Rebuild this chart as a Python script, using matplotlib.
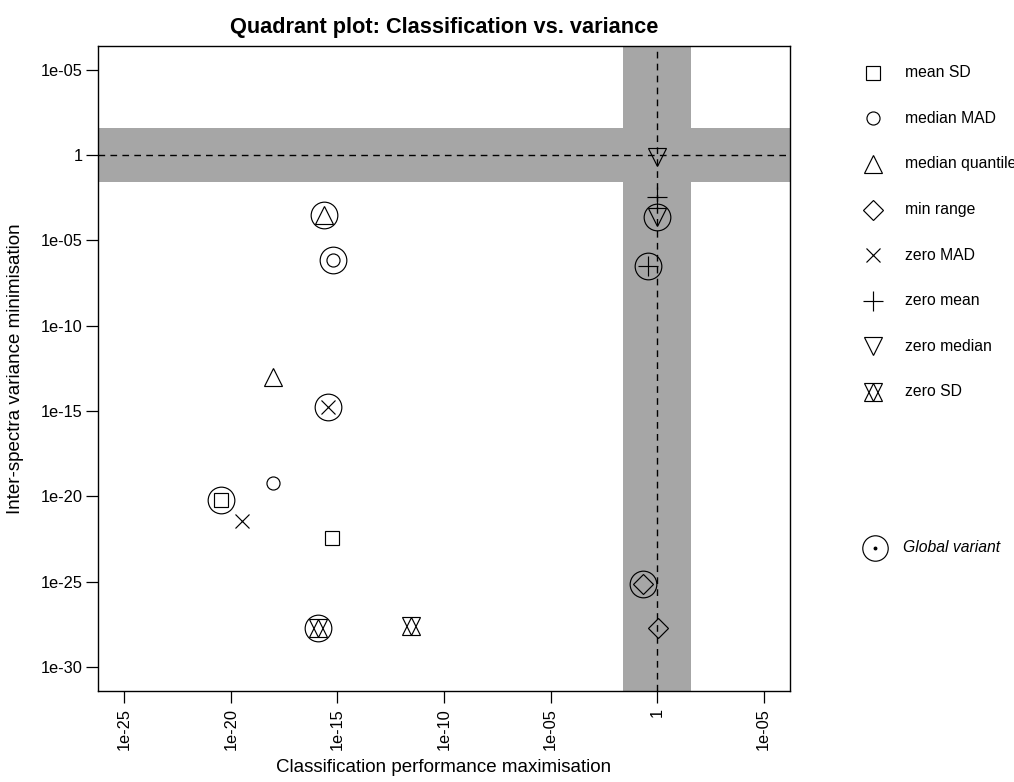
import matplotlib
matplotlib.use('Agg')
import matplotlib.pyplot as plt
import numpy as np

plt.rcParams['font.family'] = ['Liberation Sans', 'DejaVu Sans']

# methods, in legend order
methods = ['mean SD', 'median MAD', 'median quantile', 'min range',
           'zero MAD', 'zero mean', 'zero median', 'zero SD']

# local variant: (classification, variance)
local_x = [5.4e-16, 9.8e-19, 9.8e-19, 1.07, 3.2e-20, 1.0, 1.0, 2.8e-12]
local_y = [3.5e-23, 5.9e-20, 1.0e-13, 2.0e-28, 3.4e-22, 3.3e-3, 0.8, 2.5e-28]

# global variant
global_x = [3.3e-21, 6.3e-16, 2.3e-16, 0.21, 3.7e-16, 0.39, 1.0, 1.2e-16]
global_y = [6.2e-21, 7.1e-7, 3.1e-4, 7.1e-26, 1.8e-15, 3.2e-7, 2.2e-4, 1.9e-28]

# target band (log10 half width) around 1
band = 1.6

x_ticks = [1e-25, 1e-20, 1e-15, 1e-10, 1e-05, 1, 1e05]
x_labels = ['1e-25', '1e-20', '1e-15', '1e-10', '1e-05', '1', '1e-05']
y_ticks = [1e-30, 1e-25, 1e-20, 1e-15, 1e-10, 1e-05, 1, 1e05]
y_labels = ['1e-30', '1e-25', '1e-20', '1e-15', '1e-10', '1e-05', '1', '1e-05']

# marker style per method: list of (marker, size)
styles = {
    'mean SD': [('s', 9.4)],
    'median MAD': [('o', 9.4)],
    'median quantile': [('^', 12.5)],
    'min range': [('D', 9.7)],
    'zero MAD': [('x', 10)],
    'zero mean': [('+', 13.7)],
    'zero median': [('v', 12.5)],
    'zero SD': [('^', 12.5), ('v', 12.5)],
}

W, H = 1014, 782
fig = plt.figure(figsize=(W / 100, H / 100), dpi=100)
ax = fig.add_axes([98 / W, 1 - 691 / H, (790 - 98) / W, (691 - 45.7) / H])
ax.set_xscale('log')
ax.set_yscale('log')
ax.set_xlim(10 ** -26.24, 10 ** 6.24)
ax.set_ylim(10 ** -31.4, 10 ** 6.4)

grey = '#a6a6a6'
ax.axvspan(10 ** -band, 10 ** band, color=grey, lw=0, zorder=0)
ax.axhspan(10 ** -band, 10 ** band, color=grey, lw=0, zorder=0)
ax.axvline(1, color='black', lw=1, dashes=(4.8, 3.8), zorder=1)
ax.axhline(1, color='black', lw=1, dashes=(4.8, 3.8), zorder=1)


def draw(a, x, y, name, ew=0.85):
    for m, s in styles[name]:
        a.plot([x], [y], linestyle='none', marker=m, markersize=s,
               markerfacecolor='none', markeredgecolor='black',
               markeredgewidth=ew, zorder=3)


for i, name in enumerate(methods):
    draw(ax, local_x[i], local_y[i], name)
    draw(ax, global_x[i], global_y[i], name)
    ax.plot([global_x[i]], [global_y[i]], linestyle='none', marker='o',
            markersize=19.2, markerfacecolor='none', markeredgecolor='black',
            markeredgewidth=0.85, zorder=3)

ax.set_xticks(x_ticks)
ax.set_xticklabels(x_labels, rotation=90, fontsize=11.8)
ax.set_yticks(y_ticks)
ax.set_yticklabels(y_labels, fontsize=11.8)
ax.xaxis.set_minor_locator(matplotlib.ticker.NullLocator())
ax.yaxis.set_minor_locator(matplotlib.ticker.NullLocator())
ax.tick_params(axis='y', length=8.4, width=0.9, pad=2.5)
ax.tick_params(axis='x', length=8.4, width=0.9, pad=4)
for sp in ax.spines.values():
    sp.set_linewidth(1.0)

ax.set_title('Quadrant plot: Classification vs. variance', fontsize=15.7,
             fontweight='bold', pad=9)
ax.set_xlabel('Classification performance maximisation', fontsize=13.5, labelpad=6)
ax.set_ylabel('Inter-spectra variance minimisation', fontsize=13.5, labelpad=12)

# legend drawn by hand to the right of the plot
lg = fig.add_axes([0, 0, 1, 1], facecolor='none')
lg.set_xlim(0, W)
lg.set_ylim(H, 0)
lg.axis('off')
row0, step = 72.7, 45.6
for i, name in enumerate(methods):
    yy = row0 + i * step
    draw(lg, 873, yy, name)
    lg.text(905, yy, name, fontsize=11.3, va='center', ha='left')
lg.plot([875], [548], linestyle='none', marker='o', markersize=18.3,
        markerfacecolor='none', markeredgecolor='black', markeredgewidth=0.85)
lg.plot([875], [548], linestyle='none', marker='o', markersize=1.8,
        color='black')
lg.text(903, 548, 'Global variant', fontsize=11.3, style='italic',
        va='center', ha='left')

fig.savefig('out.png', dpi=100)
